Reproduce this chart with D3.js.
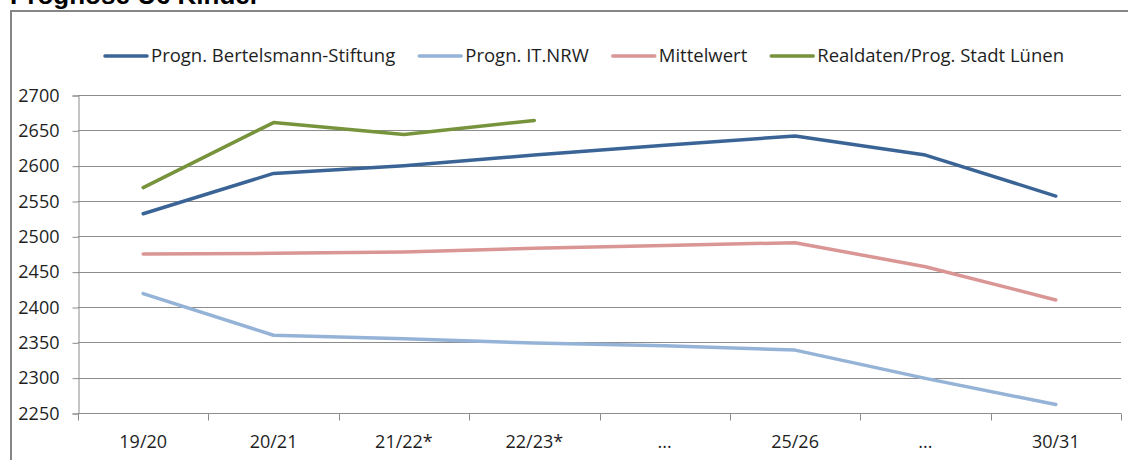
<!DOCTYPE html>
<html lang="de">
<head>
    <meta charset="utf-8">
    <title>Prognose U6 Kinder</title>
    <script type="text/javascript" src="https://cdn.jsdelivr.net/npm/d3@7"></script>
    <style>
        body { margin: 0; background: #fff; }
        svg { display: block; }
        .axis text { font-family: "Open Sans", sans-serif; font-size: 18px; fill: #1e1e1e; }
        .legend text { font-family: "Open Sans", sans-serif; font-size: 18.5px; fill: #1e1e1e; }
    </style>
</head>
<body>
<script type="text/javascript">

    // school years on the x axis
    var years = ["19/20", "20/21", "21/22*", "22/23*", "...", "25/26", "...", "30/31"];

    var seriesNames = ["Progn. Bertelsmann-Stiftung", "Progn. IT.NRW", "Mittelwert", "Realdaten/Prog. Stadt Lünen"];
    var seriesColors = ["#3b6496", "#95b3d7", "#d99694", "#77933c"];

    var bertelsmann = [2532, 2589, 2600, 2615, 2629, 2642, 2615, 2557];
    var itnrw = [2419, 2360, 2355, 2349, 2345, 2339, 2299, 2262];
    var mittelwert = [2475, 2476, 2478, 2483, 2487, 2491, 2457, 2410];
    var lunen = [2569, 2661, 2644, 2664];

    var yTicks = [2250, 2300, 2350, 2400, 2450, 2500, 2550, 2600, 2650, 2700];

    var w = 1128, h = 460;
    var plot = {left: 78, right: 1121, top: 95, bottom: 413};

    var svg = d3.select("body").append("svg")
        .attr("width", w)
        .attr("height", h);

    // title, cut at the top like in the original
    svg.append("text")
        .attr("x", 10)
        .attr("y", 4)
        .style("font-family", "'Liberation Sans', Arial, sans-serif")
        .style("font-weight", "bold")
        .style("font-size", "26px")
        .style("fill", "#000")
        .text("Prognose U6 Kinder");

    // chart frame (runs out of the picture on the right and bottom)
    svg.append("path")
        .attr("d", "M11," + (h + 5) + "V11H" + (w + 5))
        .style("fill", "none")
        .style("stroke", "#868686")
        .style("stroke-width", 2);

    // x positions: one band per index, since "..." appears twice
    var xScale = d3.scaleBand()
        .domain(d3.range(years.length))
        .range([plot.left, plot.right]);

    var yScale = d3.scaleLinear()
        .domain([2250, 2700])
        .range([plot.bottom, plot.top]);

    // gridlines
    svg.append("g")
        .selectAll("line")
        .data(yTicks.slice(1))
        .enter()
        .append("line")
        .attr("x1", plot.left)
        .attr("x2", plot.right)
        .attr("y1", function (d) { return Math.round(yScale(d)) + 0.5; })
        .attr("y2", function (d) { return Math.round(yScale(d)) + 0.5; })
        .style("stroke", "#8c8c8c")
        .style("stroke-width", 1);

    // y axis
    var yAxis = d3.axisLeft(yScale)
        .tickValues(yTicks)
        .tickSize(6)
        .tickPadding(13)
        .tickFormat(d3.format("d"));

    var yG = svg.append("g")
        .attr("class", "y axis")
        .attr("transform", "translate(" + (plot.left + 0.5) + ",0.5)")
        .call(yAxis);
    yG.select(".domain").style("stroke", "#8c8c8c");
    yG.selectAll(".tick line").style("stroke", "#8c8c8c");

    // x axis: ticks sit between the categories
    var xAxisLine = svg.append("g")
        .attr("class", "x axis")
        .attr("transform", "translate(0," + (Math.round(plot.bottom) + 0.5) + ")");

    xAxisLine.append("line")
        .attr("x1", plot.left)
        .attr("x2", plot.right)
        .style("stroke", "#8c8c8c");

    xAxisLine.selectAll(".xtick")
        .data(d3.range(years.length + 1))
        .enter()
        .append("line")
        .attr("class", "xtick")
        .attr("x1", function (i) { return Math.round(plot.left + i * xScale.step()) + 0.5; })
        .attr("x2", function (i) { return Math.round(plot.left + i * xScale.step()) + 0.5; })
        .attr("y1", 0)
        .attr("y2", 7)
        .style("stroke", "#8c8c8c");

    xAxisLine.selectAll("text")
        .data(years)
        .enter()
        .append("text")
        .attr("x", function (d, i) { return xScale(i) + xScale.bandwidth() / 2; })
        .attr("y", 34)
        .style("text-anchor", "middle")
        .text(function (d) { return d; });

    //Draw lines
    var line = d3.line()
        .x(function (d, i) { return xScale(i) + xScale.bandwidth() / 2; })
        .y(function (d) { return yScale(d); });

    var allSeries = [bertelsmann, itnrw, mittelwert, lunen];

    svg.append("g")
        .selectAll("path")
        .data(allSeries)
        .enter()
        .append("path")
        .attr("d", line)
        .style("fill", "none")
        .style("stroke", function (d, i) { return seriesColors[i]; })
        .style("stroke-width", 3.5)
        .style("stroke-linecap", "round")
        .style("stroke-linejoin", "round");

    // legend
    var legend = svg.append("g").attr("class", "legend");
    var lx = 0;
    seriesNames.forEach(function (name, i) {
        var item = legend.append("g").attr("transform", "translate(" + lx + ",0)");
        item.append("line")
            .attr("x1", 0)
            .attr("x2", 42)
            .attr("y1", 56)
            .attr("y2", 56)
            .style("stroke", seriesColors[i])
            .style("stroke-width", 3.5)
            .style("stroke-linecap", "round");
        var t = item.append("text")
            .attr("x", 46)
            .attr("y", 62)
            .text(name);
        lx += 46 + t.node().getComputedTextLength() + 24;
    });
    var legendWidth = lx - 24;
    legend.attr("transform", "translate(" + Math.round(585 - legendWidth / 2) + ",0)");

</script>
</body>
</html>
